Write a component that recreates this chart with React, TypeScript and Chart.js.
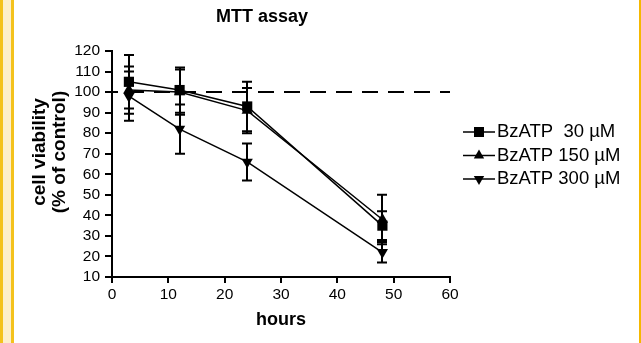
import React, { useEffect, useRef } from 'react';
import { Chart, registerables } from 'chart.js';

Chart.register(...registerables);

// ---- data ----
const hours = [3, 12, 24, 48];
const seriesLabels = ['BzATP  30 µM', 'BzATP 150 µM', 'BzATP 300 µM'];
const v30 = [105, 101, 93, 35];
const v150 = [101, 100, 91, 38];
const v300 = [98, 82, 66, 22];
const e30 = [13, 11, 12, 7];
const e150 = [11.5, 11, 11, 12];
const e300 = [12, 12, 9, 5];
const controlLevel = 100;
const xRange = [0, 60];
const yRange = [10, 120];
const tickStep = 10;
const chartTitle = 'MTT assay';
const yTitle = ['cell viability', '(% of control)'];
const xTitle = 'hours';

const FONT = '"Liberation Sans", Arial, Helvetica, sans-serif';

const toPoints = (vals: number[]) => vals.map((v, i) => ({ x: hours[i], y: v }));

function drawMarker(ctx: CanvasRenderingContext2D, style: string, rot: number, x: number, y: number) {
  ctx.save();
  ctx.fillStyle = '#000';
  ctx.beginPath();
  if (style === 'rect') {
    ctx.rect(x - 5, y - 5, 10, 10);
  } else {
    const r = 6;
    let a = (rot * Math.PI) / 180;
    ctx.moveTo(x + Math.sin(a) * r, y - Math.cos(a) * r);
    a += (2 * Math.PI) / 3;
    ctx.lineTo(x + Math.sin(a) * r, y - Math.cos(a) * r);
    a += (2 * Math.PI) / 3;
    ctx.lineTo(x + Math.sin(a) * r, y - Math.cos(a) * r);
    ctx.closePath();
  }
  ctx.fill();
  ctx.restore();
}

const errorBarPlugin = {
  id: 'errorBars',
  beforeDatasetsDraw(chart: any) {
    const { ctx, scales } = chart;
    const x = scales.x;
    const y = scales.y;
    ctx.save();
    ctx.strokeStyle = '#000';
    ctx.lineWidth = 2;
    chart.data.datasets.forEach((ds: any) => {
      const errs: number[] | undefined = ds.errors;
      if (!errs) return;
      ds.data.forEach((pt: any, j: number) => {
        const px = Math.round(x.getPixelForValue(pt.x));
        const top = y.getPixelForValue(pt.y + errs[j]);
        const bot = y.getPixelForValue(pt.y - errs[j]);
        ctx.beginPath();
        ctx.moveTo(px, top);
        ctx.lineTo(px, bot);
        ctx.moveTo(px - 5, top);
        ctx.lineTo(px + 5, top);
        ctx.moveTo(px - 5, bot);
        ctx.lineTo(px + 5, bot);
        ctx.stroke();
      });
    });
    ctx.restore();
  },
};

const textPlugin = {
  id: 'texts',
  afterDraw(chart: any) {
    const { ctx } = chart;
    ctx.save();
    ctx.fillStyle = '#000';
    // main title
    ctx.font = `bold 18px ${FONT}`;
    ctx.textAlign = 'center';
    ctx.textBaseline = 'middle';
    ctx.fillText(chartTitle, 262, 17);
    // y title
    ctx.save();
    ctx.font = `bold 19px ${FONT}`;
    ctx.translate(40, 152);
    ctx.rotate(-Math.PI / 2);
    ctx.fillText(yTitle[0], 0, 0);
    ctx.fillText(yTitle[1], 0, 20);
    ctx.restore();
    // legend
    const rows = [132, 155.5, 179];
    ctx.font = `18.5px ${FONT}`;
    ctx.textAlign = 'left';
    let k = 0;
    chart.data.datasets.forEach((ds: any) => {
      if (!ds.errors) return;
      const yy = rows[k++];
      ctx.strokeStyle = '#000';
      ctx.lineWidth = 1.5;
      ctx.beginPath();
      ctx.moveTo(463, yy);
      ctx.lineTo(495, yy);
      ctx.stroke();
      drawMarker(ctx, ds.pointStyle, ds.pointRotation || 0, 479, yy);
      ctx.fillText(ds.label, 497, yy);
    });
    ctx.restore();
  },
};

export default function App() {
  const ref = useRef<HTMLCanvasElement | null>(null);

  useEffect(() => {
    if (!ref.current) return;
    const common = {
      borderColor: '#000',
      backgroundColor: '#000',
      pointBackgroundColor: '#000',
      pointBorderColor: '#000',
      borderWidth: 1.5,
      pointBorderWidth: 0,
      showLine: true,
      fill: false,
      tension: 0,
    };
    const chart = new Chart(ref.current, {
      type: 'scatter',
      data: {
        datasets: [
          {
            label: '',
            data: [
              { x: xRange[0], y: controlLevel },
              { x: xRange[1], y: controlLevel },
            ],
            borderColor: '#000',
            borderWidth: 2,
            borderDash: [16, 10],
            borderDashOffset: 10,
            pointRadius: 0,
            showLine: true,
            fill: false,
          } as any,
          { ...common, label: seriesLabels[0], data: toPoints(v30), errors: e30, pointStyle: 'rect', pointRadius: 7.2 } as any,
          { ...common, label: seriesLabels[1], data: toPoints(v150), errors: e150, pointStyle: 'triangle', pointRadius: 6.5 } as any,
          { ...common, label: seriesLabels[2], data: toPoints(v300), errors: e300, pointStyle: 'triangle', pointRotation: 180, pointRadius: 6.5 } as any,
        ],
      },
      options: {
        animation: false,
        responsive: false,
        events: [],
        layout: { padding: { left: 0, top: 51, right: 191, bottom: 0 } },
        plugins: {
          legend: { display: false },
          title: { display: false },
          tooltip: { enabled: false },
        },
        scales: {
          x: {
            type: 'linear',
            min: xRange[0],
            max: xRange[1],
            afterFit: (s: any) => {
              s.height = 66;
            },
            ticks: {
              stepSize: tickStep,
              autoSkip: false,
              color: '#000',
              padding: 2,
              font: { size: 15.5, family: FONT },
            },
            grid: {
              drawOnChartArea: false,
              drawTicks: true,
              tickLength: 6,
              color: '#000',
              lineWidth: 2,
            },
            border: { display: true, color: '#000', width: 2 },
            title: {
              display: true,
              text: xTitle,
              color: '#000',
              font: { size: 18, weight: 'bold', family: FONT, lineHeight: 1.2 },
              padding: { top: 0, bottom: 12 },
            },
          },
          y: {
            type: 'linear',
            min: yRange[0],
            max: yRange[1],
            afterFit: (s: any) => {
              s.width = 112;
            },
            ticks: {
              stepSize: tickStep,
              autoSkip: false,
              color: '#000',
              padding: 5,
              font: { size: 15.5, family: FONT },
            },
            grid: {
              drawOnChartArea: false,
              drawTicks: true,
              tickLength: 7,
              color: '#000',
              lineWidth: 2,
            },
            border: { display: true, color: '#000', width: 2 },
          },
        },
      } as any,
      plugins: [errorBarPlugin, textPlugin],
    });
    return () => chart.destroy();
  }, []);

  return (
    <div style={{ position: 'fixed', left: 0, top: 0, width: 641, height: 343, background: '#fff', overflow: 'hidden' }}>
      <div style={{ position: 'absolute', left: 0, top: 0, width: 3, height: 343, background: '#F4C21C' }} />
      <div style={{ position: 'absolute', left: 3, top: 0, width: 8, height: 343, background: '#FDEFCB' }} />
      <div style={{ position: 'absolute', left: 11, top: 0, width: 3, height: 343, background: '#F4C21C' }} />
      <div style={{ position: 'absolute', left: 639, top: 0, width: 2, height: 343, background: '#F5B800' }} />
      <canvas ref={ref} width={641} height={343} style={{ position: 'absolute', left: 0, top: 0, width: 641, height: 343, display: 'block' }} />
    </div>
  );
}
